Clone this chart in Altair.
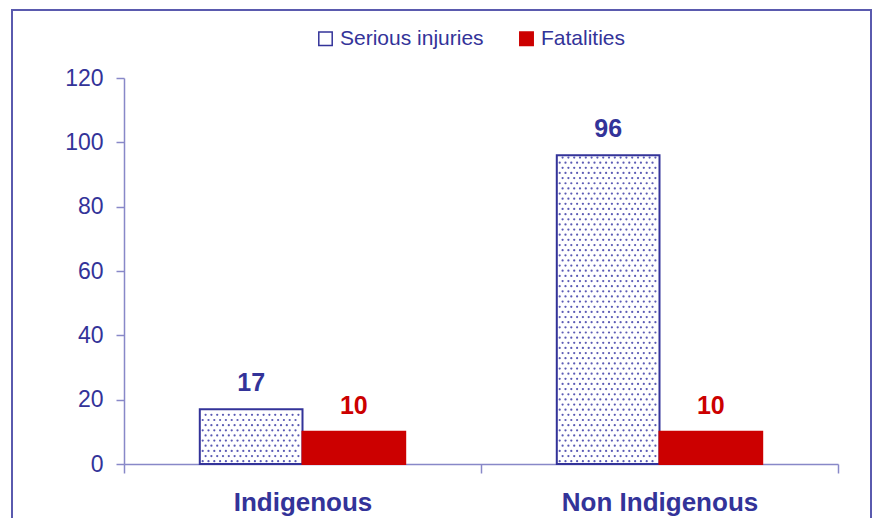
import altair as alt
import pandas as pd

categories = ["Indigenous", "Non Indigenous"]
series_names = ["Serious injuries", "Fatalities"]
serious_injuries = [17, 96]
fatalities = [10, 10]
y_ticks = [0, 20, 40, 60, 80, 100, 120]

rows = []
for i, c in enumerate(categories):
    rows.append({"group": c, "series": series_names[0], "value": serious_injuries[i]})
    rows.append({"group": c, "series": series_names[1], "value": fatalities[i]})
df = pd.DataFrame(rows)

BLUE = "#333399"
RED = "#CC0000"
AXIS = "#8888c8"
FONT = "Liberation Sans"

x = alt.X(
    "group:N", sort=categories,
    scale=alt.Scale(paddingInner=0, paddingOuter=0),
    axis=alt.Axis(title=None, labelAngle=0, tickBand="extent", tickSize=9,
                  domainColor=AXIS, tickColor=AXIS, domainWidth=1.5, tickWidth=1.5,
                  labelFont=FONT, labelFontSize=26, labelFontWeight="bold",
                  labelColor=BLUE, labelPadding=16, labelLimit=0),
)
xoff = alt.XOffset("series:N", sort=series_names,
                   scale=alt.Scale(paddingInner=0, paddingOuter=0.738))
y_axis = alt.Axis(title=None, values=y_ticks, grid=False, tickSize=8,
                  domainColor=AXIS, tickColor=AXIS, domainWidth=1.5, tickWidth=1.5,
                  labelFont=FONT, labelFontSize=23, labelColor=BLUE, labelPadding=13)
y_scale = alt.Scale(domain=[0, 120])
y = alt.Y("value:Q", scale=y_scale, axis=y_axis)

legend = alt.Legend(title=None, orient="none", legendX=191, legendY=-50,
                    direction="horizontal", symbolType="square", symbolSize=180,
                    symbolStrokeWidth=1.5, labelFont=FONT, labelFontSize=21,
                    labelColor=BLUE, labelOffset=4, columnPadding=32)

bars = alt.Chart(df).mark_bar(strokeWidth=2).encode(
    x=x, xOffset=xoff, y=y,
    fill=alt.Fill("series:N", sort=series_names,
                  scale=alt.Scale(domain=series_names, range=["#ffffff", RED]),
                  legend=legend),
    stroke=alt.Stroke("series:N", sort=series_names,
                      scale=alt.Scale(domain=series_names, range=[BLUE, RED]),
                      legend=legend),
)

labels = alt.Chart(df).mark_text(font=FONT, fontSize=25, fontWeight="bold",
                                 dy=-18, baseline="alphabetic").encode(
    x=x, xOffset=xoff, y=y, text="value:Q",
    color=alt.Color("series:N", sort=series_names,
                    scale=alt.Scale(domain=series_names, range=[BLUE, RED]),
                    legend=None),
)

frame = alt.Chart(pd.DataFrame({"k": [0]})).mark_rect(
    fill="transparent", stroke="#5a5aae", strokeWidth=2
).encode(x=alt.value(-112), x2=alt.value(747), y=alt.value(-68), y2=alt.value(500))

# dotted texture inside the "Serious injuries" bars (derived from the data values)
dots = alt.Chart(df).transform_filter(
    alt.datum.series == series_names[0]
).transform_calculate(
    idx="indexof(['Indigenous', 'Non Indigenous'], datum.group)",
    r="sequence(0, floor(datum.value / 1.6))",
).transform_flatten(["r"]).transform_calculate(
    c="sequence(0, 17)"
).transform_flatten(["c"]).transform_calculate(
    yy="(datum.r + 0.55) * 1.6",
    xx="datum.idx + 0.2123 + (datum.c + 0.5 + (datum.r % 2) * 0.5) * 0.01625",
).mark_point(shape="circle", filled=True, size=5, opacity=0.9, color="#4848ac").encode(
    x=alt.X("xx:Q", scale=alt.Scale(domain=[0, 2], nice=False, zero=False), axis=None),
    y=alt.Y("yy:Q", scale=y_scale, axis=y_axis),
)

main = alt.layer(frame, bars, labels)

chart = alt.layer(main, dots).resolve_scale(
    x="independent"
).properties(
    width=714, height=386,
    padding={"left": 116, "top": 70, "right": 34, "bottom": 54},
    autosize=alt.AutoSizeParams(type="none"),
).configure(background="white").configure_view(strokeWidth=0)

chart.save("out.html", embed_options={"renderer": "svg", "actions": False})
